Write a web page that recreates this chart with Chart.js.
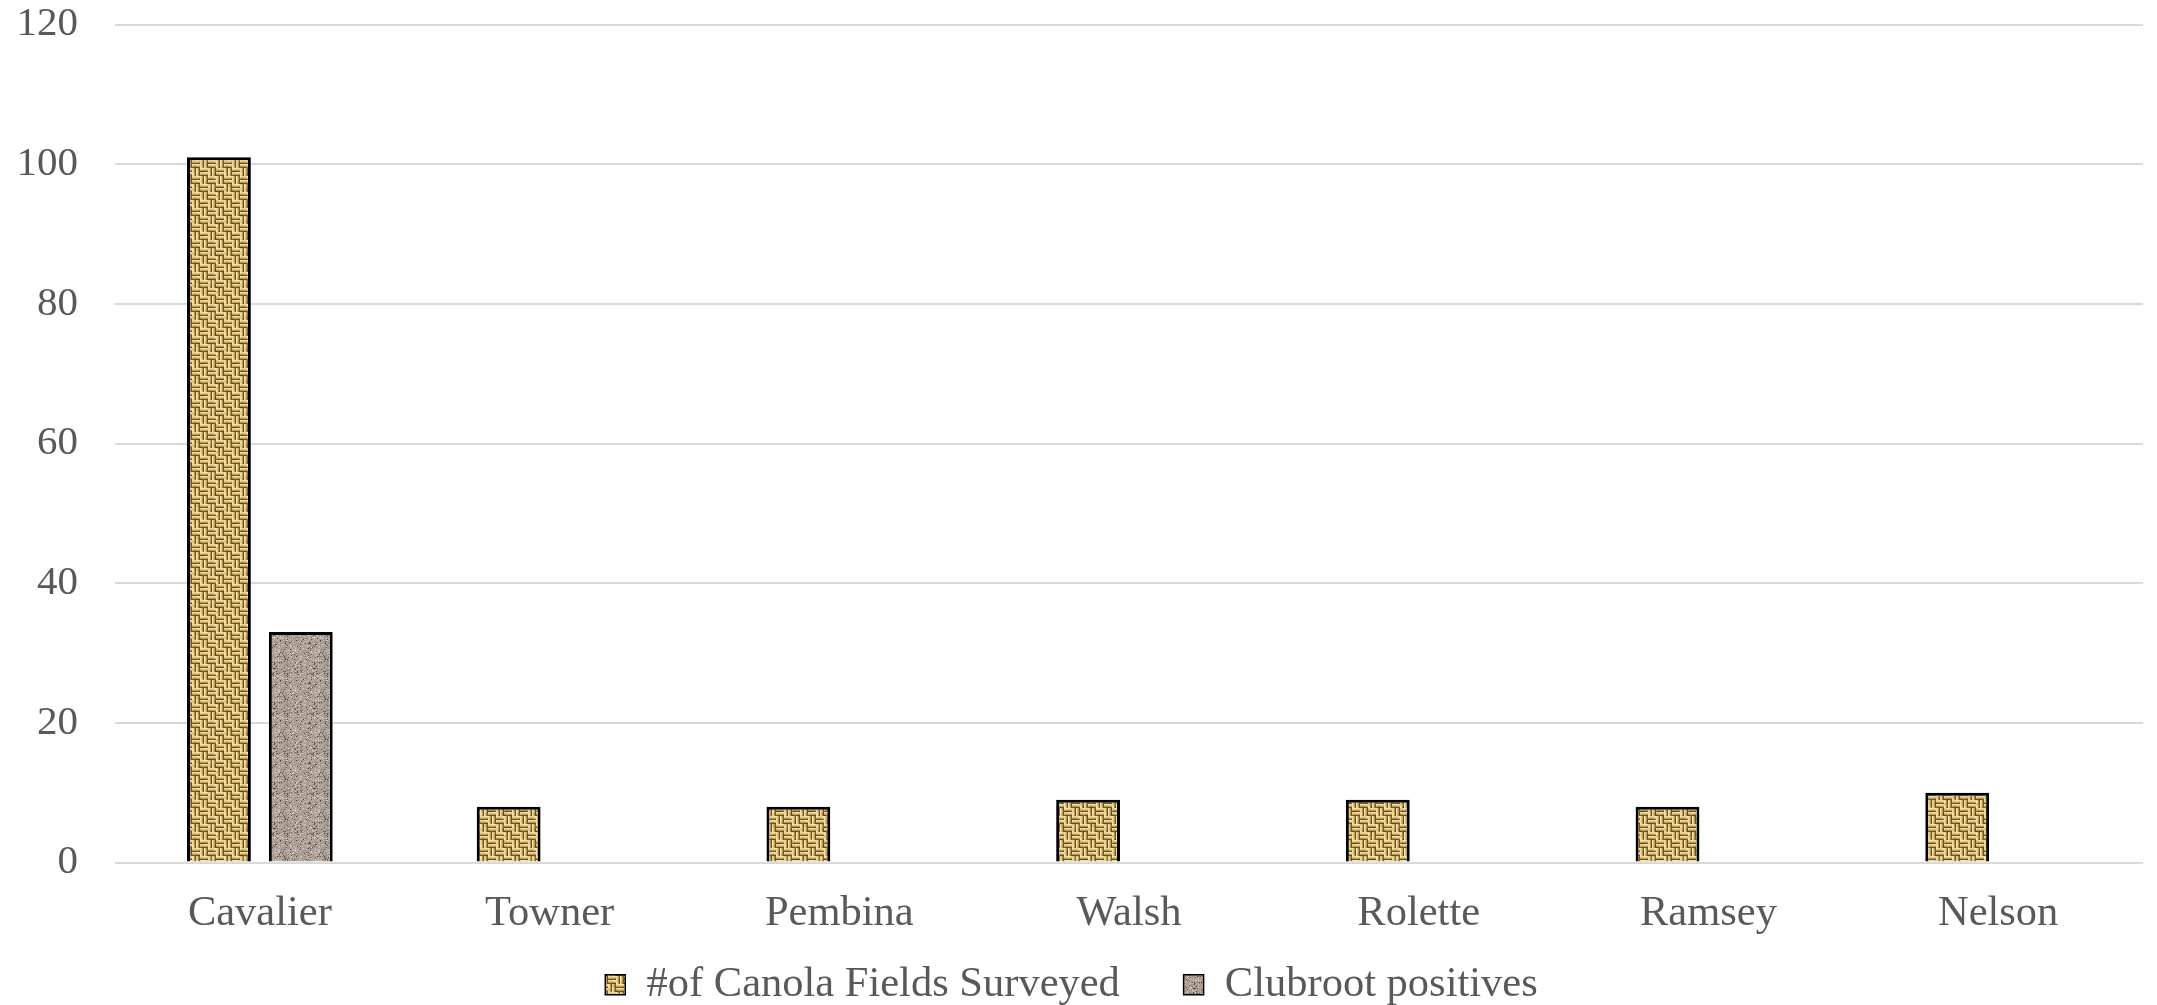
<!DOCTYPE html>
<html>
<head>
<meta charset="utf-8">
<script src="https://cdn.jsdelivr.net/npm/chart.js@4"></script>
<style>
  html, body { margin: 0; padding: 0; background: #fff; }
  #wrap { width: 2157px; height: 1005px; position: relative; }
</style>
</head>
<body>
<div id="wrap"><canvas id="chart"></canvas></div>
<script>
// county survey data
const counties = ['Cavalier', 'Towner', 'Pembina', 'Walsh', 'Rolette', 'Ramsey', 'Nelson'];
const fieldsSurveyed = [101, 8, 8, 9, 9, 8, 10];
const clubrootPositives = [33, 0, 0, 0, 0, 0, 0];
const seriesNames = ['#of Canola Fields Surveyed', 'Clubroot positives'];
const yMax = 120;
const yStep = 20;

// small deterministic generator, only used for texture grain
function grain(seed) {
    let s = seed;
    return () => (s = (s * 16807) % 2147483647) / 2147483647;
}

// burlap-like weave fill
function weavePattern() {
    const size = 32;
    const c = document.createElement('canvas');
    c.width = size; c.height = size;
    const g = c.getContext('2d');
    const rnd = grain(11);
    const shades = [[240, 222, 156], [222, 198, 130], [184, 150, 88], [112, 84, 38]];
    const img = g.createImageData(size, size);
    for (let y = 0; y < size; y++) {
        for (let x = 0; x < size; x++) {
            const bx = Math.floor(x / 8), by = Math.floor(y / 8);
            const horiz = (bx + by) % 2 === 0;
            const k = horiz ? y % 4 : x % 4;
            const col = shades[k];
            const n = (rnd() - 0.5) * 46;
            const i = (y * size + x) * 4;
            img.data[i] = Math.max(0, Math.min(255, col[0] + n));
            img.data[i + 1] = Math.max(0, Math.min(255, col[1] + n));
            img.data[i + 2] = Math.max(0, Math.min(255, col[2] + n * 0.8));
            img.data[i + 3] = 255;
        }
    }
    g.putImageData(img, 0, 0);
    return g.createPattern(c, 'repeat');
}

// granite-like speckled fill
function granitePattern() {
    const c = document.createElement('canvas');
    c.width = 40; c.height = 40;
    const g = c.getContext('2d');
    const rnd = grain(23);
    const img = g.createImageData(40, 40);
    for (let p = 0; p < 1600; p++) {
        const r = rnd();
        let base;
        if (r < 0.08) base = [92, 80, 72];
        else if (r < 0.24) base = [208, 198, 188];
        else base = [168, 156, 146];
        const n = (rnd() - 0.5) * 30;
        img.data[p * 4] = base[0] + n;
        img.data[p * 4 + 1] = base[1] + n;
        img.data[p * 4 + 2] = base[2] + n;
        img.data[p * 4 + 3] = 255;
    }
    g.putImageData(img, 0, 0);
    return g.createPattern(c, 'repeat');
}

const textColor = '#595959';
const gridColor = '#d9d9d9';
Chart.defaults.font.family = '"Liberation Serif", "Times New Roman", serif';
Chart.defaults.font.size = 41;
Chart.defaults.color = textColor;

const barBorder = (ctx) => (ctx.raw ? 3 : 0);

new Chart(document.getElementById('chart').getContext('2d'), {
    type: 'bar',
    data: {
        labels: counties,
        datasets: [
            {
                label: seriesNames[0],
                data: fieldsSurveyed,
                backgroundColor: weavePattern(),
                borderColor: '#000',
                borderWidth: barBorder,
                categoryPercentage: 0.565,
                barPercentage: 0.78
            },
            {
                label: seriesNames[1],
                data: clubrootPositives,
                backgroundColor: granitePattern(),
                borderColor: '#000',
                borderWidth: barBorder,
                categoryPercentage: 0.565,
                barPercentage: 0.78
            }
        ]
    },
    options: {
        responsive: true,
        maintainAspectRatio: false,
        animation: false,
        layout: { padding: { top: 0, right: 14, bottom: -11, left: 0 } },
        plugins: {
            legend: {
                position: 'bottom',
                labels: {
                    boxWidth: 20,
                    boxHeight: 20,
                    padding: 0,
                    color: textColor,
                    font: { size: 42.5 },
                    // trailing spaces keep the wide gap between the two entries
                    generateLabels: (chart) => chart.data.datasets.map((ds, i) => ({
                        text: i === 0 ? ds.label + '\u2003\u2002' : ds.label,
                        fillStyle: ds.backgroundColor,
                        strokeStyle: '#000',
                        lineWidth: 1.5,
                        fontColor: textColor,
                        datasetIndex: i,
                        hidden: false
                    }))
                }
            },
            tooltip: { enabled: false }
        },
        scales: {
            x: {
                grid: { display: false },
                border: { display: false },
                ticks: { padding: 18, color: textColor, maxRotation: 0, font: { size: 42.5 } },
                afterFit: (scale) => { scale.height = 101; }
            },
            y: {
                min: 0,
                max: yMax,
                grid: { color: gridColor, lineWidth: 2, drawTicks: true, tickLength: 37, tickColor: 'rgba(0,0,0,0)' },
                border: { display: false },
                ticks: { stepSize: yStep, padding: 0, color: textColor },
                afterFit: (scale) => { scale.width = 115; }
            }
        }
    }
});
</script>
</body>
</html>
